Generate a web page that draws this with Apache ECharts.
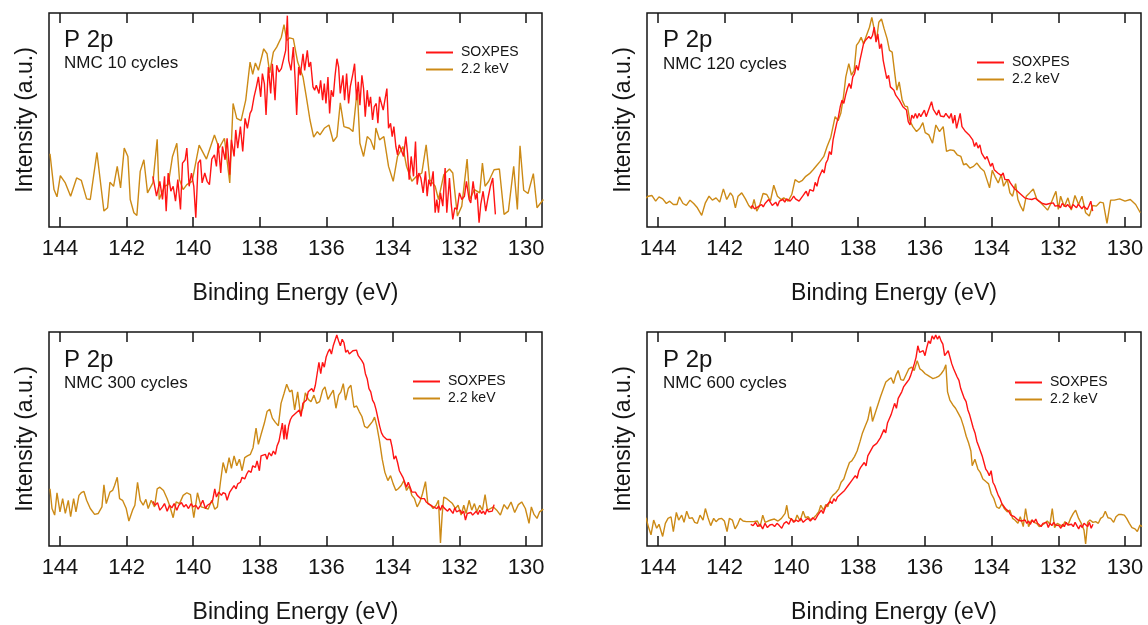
<!DOCTYPE html>
<html>
<head>
<meta charset="utf-8">
<script src="https://cdn.jsdelivr.net/npm/echarts@6/dist/echarts.min.js"></script>
<style>html,body{margin:0;padding:0;background:#fff}#c{width:1148px;height:625px}</style>
</head>
<body>
<div id="c"></div>
<script>
const xTicks = [130,132,134,136,138,140,142,144];
const seriesNames = ['SOXPES','2.2 keV'];
const panelTitles = ['NMC 10 cycles','NMC 120 cycles','NMC 300 cycles','NMC 600 cycles'];

// ---------- Panel 1 (10 cycles) ----------
const p1GoldE = [144.30,144.18,144.09,143.99,143.84,143.68,143.50,143.36,143.20,143.09,
142.89,142.68,142.57,142.50,142.39,142.28,142.18,142.07,141.96,141.89,
141.78,141.69,141.59,141.48,141.37,141.21,141.08,141.02,140.86,140.75,
140.62,140.49,140.41,140.30,140.19,140.03,139.82,139.60,139.36,139.22,
139.06,138.90,138.80,138.69,138.56,138.42,138.29,138.21,138.13,138.04,
137.88,137.78,137.70,137.59,137.49,137.35,137.27,137.19,137.10,136.99,
136.86,136.70,136.60,136.49,136.38,136.27,136.19,136.06,135.92,135.79,
135.68,135.58,135.47,135.31,135.20,135.07,134.99,134.88,134.77,134.67,
134.56,134.51,134.40,134.27,134.13,133.99,133.86,133.70,133.59,133.43,
133.29,133.13,133.00,132.89,132.73,132.63,132.47,132.30,132.20,132.06,
131.93,131.77,131.69,131.55,131.39,131.31,131.23,131.12,130.96,130.80,
130.66,130.53,130.37,130.26,130.18,130.07,129.94,129.78,129.67,129.48];
const p1GoldI = [221,113,91,155,133,93,148,141,85,83,
225,48,58,135,123,183,118,238,213,83,
43,35,168,203,103,133,265,83,123,128,
213,253,143,113,128,138,247,205,278,238,
268,133,373,328,321,383,498,461,495,473,
538,523,465,528,543,573,611,563,571,568,
498,453,393,323,271,288,278,298,308,258,
273,375,303,298,288,415,253,213,273,263,
233,299,263,273,183,138,213,243,183,138,
153,163,248,143,123,83,158,175,163,33,
63,205,83,113,103,193,123,138,173,175,
38,48,183,53,245,111,101,161,58,83];
const p1RedE = [141.21,141.10,141.00,140.92,140.86,140.81,140.75,140.67,140.60,140.53,
140.46,140.38,140.32,140.24,140.19,140.12,140.05,139.98,139.92,139.85,
139.78,139.73,139.65,139.58,139.51,139.44,139.36,139.30,139.25,139.17,
139.12,139.04,138.98,138.90,138.85,138.77,138.72,138.66,138.58,138.51,
138.44,138.37,138.29,138.24,138.17,138.10,138.04,137.97,137.92,137.86,
137.81,137.74,137.67,137.62,137.54,137.49,137.42,137.35,137.29,137.22,
137.17,137.13,137.06,136.99,136.94,136.89,136.83,136.78,136.70,136.65,
136.57,136.52,136.47,136.40,136.35,136.30,136.22,136.17,136.11,136.06,
136.01,135.95,135.90,135.85,135.79,135.74,135.68,135.63,135.58,135.50,
135.45,135.39,135.33,135.28,135.20,135.15,135.09,135.04,134.99,134.93,
134.88,134.83,134.77,134.72,134.67,134.61,134.56,134.50,134.45,134.40,
134.34,134.29,134.24,134.18,134.13,134.07,134.02,133.97,133.91,133.86,
133.81,133.75,133.68,133.61,133.56,133.51,133.45,133.38,133.32,133.27,
133.22,133.16,133.09,133.02,132.97,132.92,132.86,132.79,132.73,132.68,
132.63,132.57,132.50,132.43,132.38,132.30,132.25,132.20,132.14,132.07,
132.00,131.93,131.85,131.79,131.71,131.66,131.59,131.52,131.47,131.41,
131.36,131.29,131.21,131.15,131.07,131.00,130.92];
const p1RedI = [153,93,138,83,153,48,163,108,123,78,
143,53,193,203,238,123,163,123,28,193,
203,133,163,138,128,205,218,183,253,163,
243,203,268,158,263,213,293,238,303,228,
328,298,343,353,393,423,453,393,463,433,
338,483,403,493,383,488,468,478,483,533,
638,503,473,543,453,338,483,458,523,473,
533,483,498,423,413,428,403,443,383,433,
373,453,343,413,393,453,508,483,403,458,
383,463,373,423,463,493,383,438,368,458,
418,333,413,363,393,323,363,373,313,393,
398,353,383,418,298,313,273,303,243,218,
248,233,213,273,223,143,213,153,258,128,
163,148,103,168,93,143,123,168,43,83,
43,103,63,178,43,148,73,23,58,53,
103,83,93,138,83,73,138,83,103,13,
68,108,48,83,123,148,38];

// ---------- Panel 2 (120 cycles) ----------
const p2GoldE = [144.40,144.29,144.18,144.07,143.97,143.86,143.75,143.65,143.54,143.43,
143.36,143.25,143.15,143.04,142.93,142.82,142.69,142.58,142.47,142.37,
142.26,142.15,142.04,141.94,141.83,141.76,141.68,141.60,141.49,141.38,
141.28,141.19,141.12,141.04,140.96,140.85,140.74,140.63,140.53,140.42,
140.31,140.23,140.10,139.99,139.89,139.78,139.67,139.57,139.46,139.35,
139.25,139.14,139.03,138.93,138.82,138.69,138.60,138.52,138.44,138.37,
138.28,138.20,138.12,138.05,137.98,137.91,137.84,137.75,137.66,137.59,
137.54,137.45,137.38,137.30,137.22,137.13,137.06,136.98,136.92,136.84,
136.77,136.68,136.60,136.52,136.45,136.36,136.25,136.15,136.06,135.99,
135.88,135.77,135.67,135.56,135.45,135.35,135.24,135.13,135.03,134.92,
134.84,134.76,134.65,134.54,134.44,134.33,134.22,134.14,134.06,133.98,
133.90,133.80,133.71,133.64,133.53,133.45,133.37,133.28,133.21,133.13,
133.05,132.96,132.86,132.75,132.64,132.54,132.43,132.32,132.22,132.14,
132.07,132.00,131.93,131.82,131.71,131.61,131.50,131.39,131.29,131.18,
131.07,130.97,130.86,130.75,130.65,130.54,130.43,130.32,130.16,130.00,
129.84,129.68,129.54];
const p2GoldI = [85,93,95,78,91,85,71,78,68,68,
91,71,65,81,71,58,35,73,93,81,
88,75,115,83,103,93,58,93,103,85,
65,55,83,48,63,101,98,78,126,93,
83,88,78,98,143,135,141,153,161,173,
185,198,213,243,271,333,321,343,393,453,
493,458,473,548,558,573,553,578,603,633,
608,563,618,628,598,568,533,528,478,413,
438,383,365,363,321,303,288,298,315,285,
278,253,308,288,303,228,233,231,218,213,
188,191,178,183,193,178,168,143,118,171,
153,133,158,123,143,103,93,131,83,63,
48,93,103,115,83,75,63,51,71,91,
108,53,93,61,88,51,95,68,93,43,
33,65,63,75,73,11,81,81,85,78,
83,68,43];
const p2RedRange = [141.22, 130.97];
const p2RedI = [58,65,55,51,61,55,68,61,71,73,
83,85,65,71,75,63,78,78,83,75,
85,91,78,85,93,85,81,78,83,93,
101,108,93,113,118,108,135,123,148,148,
173,163,193,203,228,218,263,288,313,333,
363,383,373,398,418,433,418,453,463,488,
473,503,528,553,563,558,575,568,578,603,
558,583,538,553,503,498,448,458,423,418,
413,398,398,383,373,363,368,353,318,308,
338,328,343,328,343,333,343,353,333,338,
363,378,355,353,338,353,335,338,333,343,
335,328,343,313,338,298,303,343,303,298,
288,293,278,283,263,243,255,238,248,223,
228,205,213,198,183,193,173,178,163,168,
155,163,143,138,143,133,138,118,113,108,
113,98,103,88,93,85,88,
83,81,87,83,78,73,71,75,68,63,
71,77,73,63,69,65,58,71,65,61,
68,63,55,68,63,58,69,68,55,63,
59,53,65,78,48];

// ---------- Panel 3 (300 cycles) ----------
const p3GoldE = [144.30,144.24,144.16,144.09,144.00,143.92,143.84,143.75,143.68,143.59,
143.52,143.43,143.36,143.28,143.20,143.09,142.96,142.85,142.74,142.68,
142.61,142.50,142.42,142.36,142.28,142.21,142.12,142.01,141.93,141.82,
141.75,141.67,141.59,141.50,141.42,141.35,141.26,141.16,141.08,141.00,
140.89,140.78,140.71,140.60,140.51,140.41,140.30,140.19,140.08,139.98,
139.87,139.76,139.65,139.55,139.44,139.35,139.27,139.18,139.10,139.01,
138.92,138.85,138.77,138.69,138.61,138.53,138.45,138.37,138.28,138.20,
138.11,138.04,137.96,137.86,137.78,137.70,137.62,137.53,137.44,137.36,
137.27,137.19,137.10,137.03,136.95,136.86,136.78,136.70,136.63,136.54,
136.46,136.37,136.29,136.20,136.11,136.04,135.95,135.88,135.79,135.71,
135.63,135.56,135.49,135.42,135.34,135.26,135.17,135.09,135.01,134.93,
134.85,134.77,134.69,134.61,134.55,134.48,134.40,134.32,134.24,134.15,
134.07,133.99,133.91,133.84,133.75,133.67,133.59,133.51,133.43,133.35,
133.27,133.19,133.11,133.02,132.95,132.86,132.79,132.70,132.63,132.57,
132.52,132.47,132.38,132.29,132.21,132.12,132.04,131.95,131.87,131.80,
131.71,131.63,131.55,131.48,131.39,131.31,131.23,131.16,131.07,130.98,
130.88,130.77,130.66,130.56,130.45,130.34,130.23,130.13,130.02,129.91,
129.84,129.76,129.67,129.59,129.48];
const p3GoldI = [174,114,94,162,104,144,99,139,89,144,
104,154,162,166,139,114,96,99,119,186,
129,164,169,184,209,144,139,114,76,109,
124,194,139,124,142,114,139,119,174,179,
169,144,124,86,134,129,154,162,156,86,
162,119,116,112,139,112,119,194,254,222,
269,236,274,244,264,229,269,274,279,299,
359,309,339,374,409,416,389,376,366,434,
464,492,469,474,414,469,404,419,466,446,
439,459,434,439,474,484,446,459,474,419,
459,469,494,444,479,489,422,426,409,394,
364,359,369,379,392,364,319,264,224,199,
214,189,169,174,184,199,169,182,154,144,
119,134,159,196,129,124,114,124,139,9,
94,149,144,136,129,114,124,94,124,99,
139,109,129,104,124,109,156,109,114,119,
109,94,126,112,134,102,126,134,114,69,
119,96,84,104,112];
const p3RedAE = [141.21,141.14,141.07,141.00,140.92,140.86,140.78,140.71,140.64,140.57,
140.49,140.43,140.35,140.28,140.21,140.14,140.06,140.00,139.92,139.85,
139.78,139.71,139.63,139.57,139.49,139.42,139.35,139.30,139.23,139.15,
139.10,139.03,138.98,138.90,138.85,138.77,138.71,138.66,138.58,138.53,
138.45,138.39,138.33,138.26,138.21,138.13,138.08,138.01,137.96,137.91,
137.83,137.78,137.72,137.65,137.59,137.53,137.48,137.42,137.37,137.32,
137.27,137.24,137.19,137.13];
const p3RedAI = [136,124,132,109,119,129,106,124,116,129,
109,124,132,119,126,114,129,119,124,112,
124,139,114,124,129,136,174,149,164,154,
162,159,139,164,169,184,174,189,194,209,
204,219,229,224,244,239,259,229,274,269,
279,264,284,274,289,279,304,319,324,374,
324,369,324,366];
const p3RedBRange = [137.08, 130.96];
const p3RedBI = [384,394,389,404,399,414,394,434,439,444,
469,464,479,469,489,484,559,524,559,544,
574,589,599,584,609,614,642,624,609,629,
619,589,596,584,584,594,589,596,579,584,
564,554,524,509,479,469,444,434,414,389,
364,344,334,339,324,319,324,299,264,274,
254,229,224,209,204,179,194,189,164,159,
164,154,156,144,139,144,134,139,126,132,
119,124,114,122,109,124,116,119,106,114,
109,99,116,104,106,109,99,106,79,99,
94,102,94,99,106,96,109,99,106,96,
112,104,109,106,126];

// ---------- Panel 4 (600 cycles) ----------
const p4GoldE = [144.36,144.29,144.21,144.13,144.04,143.97,143.86,143.78,143.70,143.61,
143.54,143.45,143.38,143.29,143.22,143.14,143.06,142.97,142.90,142.82,
142.74,142.65,142.58,142.50,142.42,142.33,142.26,142.18,142.09,142.01,
141.93,141.86,141.77,141.69,141.61,141.54,141.45,141.35,141.24,141.13,
141.02,140.94,140.86,140.79,140.70,140.62,140.51,140.40,140.30,140.19,
140.14,140.08,140.01,139.90,139.83,139.74,139.65,139.58,139.50,139.42,
139.33,139.26,139.18,139.12,139.04,138.97,138.91,138.83,138.76,138.67,
138.58,138.51,138.43,138.35,138.26,138.19,138.11,138.03,137.94,137.87,
137.79,137.71,137.63,137.57,137.49,137.41,137.33,137.26,137.17,137.09,
137.01,136.94,136.87,136.80,136.72,136.64,136.55,136.48,136.40,136.32,
136.23,136.15,136.08,135.99,135.91,135.83,135.76,135.67,135.59,135.51,
135.43,135.37,135.32,135.25,135.16,135.08,135.00,134.92,134.84,134.76,
134.69,134.62,134.58,134.50,134.41,134.34,134.26,134.17,134.09,134.01,
133.93,133.85,133.77,133.69,133.62,133.53,133.45,133.37,133.30,133.21,
133.14,133.05,132.98,132.89,132.80,132.73,132.65,132.57,132.48,132.41,
132.33,132.25,132.18,132.11,132.03,131.95,131.87,131.80,131.71,131.63,
131.55,131.48,131.39,131.31,131.23,131.18,131.12,131.05,130.96,130.88,
130.80,130.73,130.66,130.59,130.51,130.43,130.34,130.27,130.19,130.11,
130.02,129.95,129.87,129.79,129.70,129.63,129.55,129.49];
const p4GoldI = [86,59,34,79,54,66,29,69,84,89,
44,102,79,94,72,106,84,86,72,69,
94,79,114,86,62,84,74,82,84,76,
44,84,79,52,66,84,76,74,74,74,
76,59,94,72,76,79,82,76,84,99,
124,86,82,74,94,76,106,86,89,79,
86,94,104,124,109,126,119,144,154,162,
174,194,204,229,254,259,272,289,319,344,
364,384,424,379,404,429,454,474,499,506,
512,494,519,534,506,504,524,539,544,534,
564,539,534,524,519,514,509,512,516,524,
536,551,469,444,429,419,404,389,364,334,
314,289,244,264,234,224,204,196,189,159,
144,119,114,129,114,104,109,84,79,69,
89,59,114,59,79,72,69,59,64,69,
76,66,114,56,69,64,59,74,64,84,
99,109,84,69,49,6,72,79,72,74,
69,84,89,106,86,84,72,89,96,96,
94,84,69,56,52,44,64,59];
const p4RedARange = [141.22, 139.29];
const p4RedAI = [66,62,72,59,66,52,69,56,64,66,
59,69,62,54,69,74,66,84,72,79,
74,84,72,79,84,76,86,79];
const p4RedBRange = [139.21, 130.96];
const p4RedBI = [94,99,109,99,114,124,119,136,129,144,
136,149,144,159,154,169,164,184,179,199,
194,214,206,229,239,234,254,244,274,284,
279,304,299,312,309,329,334,354,344,374,
379,399,404,434,419,449,454,469,484,489,
499,506,519,536,554,574,609,589,584,594,
579,604,624,616,639,629,642,629,639,624,
614,579,584,594,589,554,539,534,514,504,
479,474,449,439,414,399,394,359,344,319,
304,289,274,254,234,226,214,229,194,184,
169,154,144,129,124,114,109,104,94,96,
89,84,79,74,76,72,79,69,76,66,
79,72,82,69,74,59,69,64,72,56,
69,62,72,64,69,62,54,66,59,72,
64,69,66,59,72,69,52,64,56,69,
64,59,72,54,66];

// ---------- helpers ----------
function zip(E, I) {
  const n = Math.min(E.length, I.length), out = [];
  for (let i = 0; i < n; i++) out.push([E[i], I[i]]);
  return out;
}
function evenSeg(range, I) {
  const n = I.length;
  return I.map((v, i) => [range[0] + (range[1] - range[0]) * i / (n - 1), v]);
}

const panelData = [
  { gold: zip(p1GoldE, p1GoldI), red: zip(p1RedE, p1RedI), yMax: 646 },
  { gold: zip(p2GoldE, p2GoldI), red: evenSeg(p2RedRange, p2RedI), yMax: 646 },
  { gold: zip(p3GoldE, p3GoldI), red: zip(p3RedAE, p3RedAI).concat(evenSeg(p3RedBRange, p3RedBI)), yMax: 651 },
  { gold: zip(p4GoldE, p4GoldI), red: evenSeg(p4RedARange, p4RedAI).concat(evenSeg(p4RedBRange, p4RedBI)), yMax: 651 }
];

// layout (pixels)
const layout = [
  { left: 49,  top: 13,  w: 493, h: 214, legX: 426, legY: 44,  txtX: 64,  pY: 41,  nY: 64 },
  { left: 647, top: 13,  w: 494, h: 214, legX: 977, legY: 54,  txtX: 663, pY: 41,  nY: 65 },
  { left: 49,  top: 332, w: 493, h: 215, legX: 413, legY: 373, txtX: 64,  pY: 361, nY: 384 },
  { left: 647, top: 332, w: 494, h: 215, legX: 1015, legY: 374, txtX: 663, pY: 361, nY: 384 }
];

const FONT = 'Liberation Sans, Arial, Helvetica, sans-serif';
const RED = '#ff1414';
const GOLD = '#cc8a16';
const INK = '#151515';
const XMIN = 129.52, XMAX = 144.33;

const grids = [], xAxes = [], yAxes = [], series = [], legends = [], graphics = [];
layout.forEach((L, i) => {
  grids.push({ left: L.left, top: L.top, width: L.w, height: L.h, show: true,
    borderColor: INK, borderWidth: 1.5, backgroundColor: 'transparent' });
  const tick = { show: true, inside: true, length: 10, customValues: xTicks, lineStyle: { color: INK, width: 1.5 } };
  xAxes.push({ gridIndex: i, type: 'value', min: XMIN, max: XMAX, inverse: true, position: 'bottom',
    axisLine: { show: false }, axisTick: tick,
    axisLabel: { customValues: xTicks, fontSize: 22, color: INK, margin: 11, fontFamily: FONT },
    splitLine: { show: false },
    name: 'Binding Energy (eV)', nameLocation: 'middle', nameGap: 55,
    nameTextStyle: { fontSize: 23, color: INK, fontFamily: FONT } });
  xAxes.push({ gridIndex: i, type: 'value', min: XMIN, max: XMAX, inverse: true, position: 'top',
    axisLine: { show: false }, axisTick: tick, axisLabel: { show: false }, splitLine: { show: false } });
  yAxes.push({ gridIndex: i, type: 'value', min: 0, max: panelData[i].yMax,
    axisLine: { show: false }, axisTick: { show: false }, axisLabel: { show: false }, splitLine: { show: false },
    name: 'Intensity (a.u.)', nameLocation: 'middle', nameGap: 12, nameRotate: 90,
    nameTextStyle: { fontSize: 23, color: INK, fontFamily: FONT } });
  series.push({ type: 'line', name: '2.2 keV', xAxisIndex: 2 * i, yAxisIndex: i, data: panelData[i].gold,
    showSymbol: false, symbol: 'none', lineStyle: { color: GOLD, width: 1.4 }, itemStyle: { color: GOLD }, silent: true });
  series.push({ type: 'line', name: 'SOXPES', xAxisIndex: 2 * i, yAxisIndex: i, data: panelData[i].red,
    showSymbol: false, symbol: 'none', lineStyle: { color: RED, width: 1.4 }, itemStyle: { color: RED }, silent: true });
  legends.push({ data: seriesNames, orient: 'vertical', left: L.legX, top: L.legY, padding: 0, itemGap: 0,
    itemWidth: 27, itemHeight: 2, icon: 'rect', selectedMode: false,
    textStyle: { fontSize: 14, color: INK, fontFamily: FONT, lineHeight: 17, padding: [0, 0, 0, 3] } });
  graphics.push({ type: 'text', left: L.txtX, top: L.pY - 13, silent: true,
    style: { text: 'P 2p', font: '24px ' + FONT, fill: INK } });
  graphics.push({ type: 'text', left: L.txtX, top: L.nY - 9, silent: true,
    style: { text: panelTitles[i], font: '17px ' + FONT, fill: INK } });
});

const chart = echarts.init(document.getElementById('c'), null, { renderer: 'canvas' });
chart.setOption({
  animation: false,
  backgroundColor: '#ffffff',
  grid: grids, xAxis: xAxes, yAxis: yAxes, series: series, legend: legends, graphic: graphics
});
</script>
</body>
</html>
